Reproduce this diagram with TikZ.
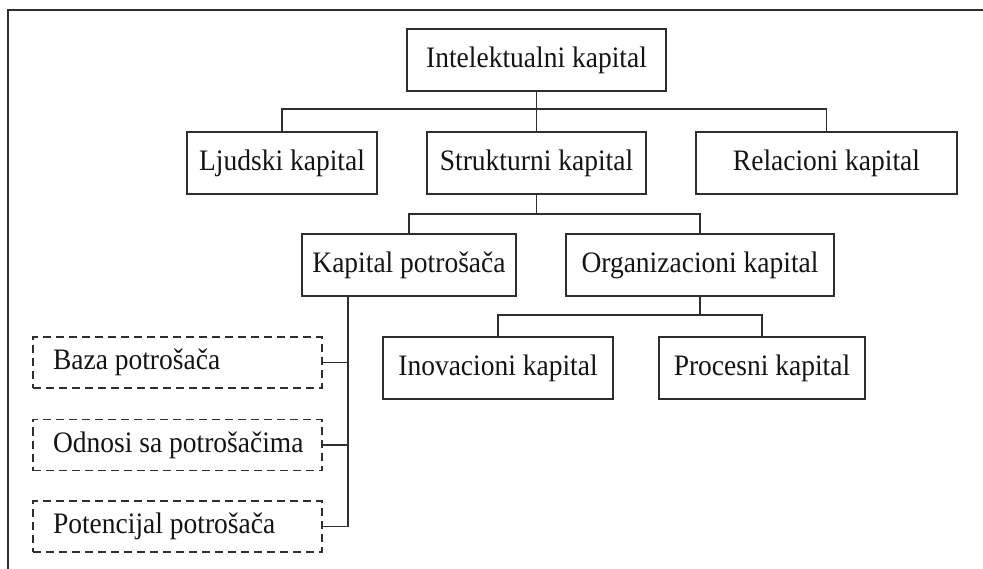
\documentclass[tikz,border=0pt]{standalone}
\usepackage{fontspec}
\setmainfont{Liberation Serif}
\newcommand{\tallt}[1]{\scalebox{1}[1.08]{#1}}
\newcommand{\leftt}[1]{\makebox[249pt][l]{\scalebox{1}[1.08]{#1}}}
\begin{document}
\begin{tikzpicture}[x=1pt,y=-1pt,
  line width=1.3pt,
  every node/.style={font=\fontsize{27.5}{30}\selectfont, text=black!92, inner sep=0pt},
  box/.style={draw=black!82, minimum height=62pt},
  dbox/.style={draw=black!82, dash pattern=on 8pt off 5pt, minimum height=51pt, minimum width=289pt},
  conn/.style={draw=black!82, line width=1.3pt}]
\useasboundingbox (0,0) rectangle (983,569);
\draw[black!82] (983,10) -- (8,10) -- (8,569);

\node[box, minimum width=259pt] (ik) at (536.5,60) {\tallt{Intelektualni kapital}};
\node[box, minimum width=190pt] (lk) at (282,163) {\tallt{Ljudski kapital}};
\node[box, minimum width=219pt] (sk) at (536.5,163) {\tallt{Strukturni kapital}};
\node[box, minimum width=261pt] (rk) at (826.5,163) {\tallt{Relacioni kapital}};
\node[box, minimum width=214pt] (kp) at (409,265) {\tallt{Kapital potrošača}};
\node[box, minimum width=268pt] (ok) at (700,265) {\tallt{Organizacioni kapital}};
\node[box, minimum width=230pt] (inv) at (498,368) {\tallt{Inovacioni kapital}};
\node[box, minimum width=206pt] (pk) at (762,368) {\tallt{Procesni kapital}};

\node[dbox] (baza) at (177.5,362.5) {\leftt{Baza potrošača}};
\node[dbox] (odn) at (177.5,445) {\leftt{Odnosi sa potrošačima}};
\node[dbox] (pot) at (177.5,526.5) {\leftt{Potencijal potrošača}};

\coordinate (h1) at (0,109);
\coordinate (h2) at (0,214);
\coordinate (h3) at (0,315);
\coordinate (tr) at (348,0);

% level 1
\draw[conn] (ik.south) -- (ik.south |- h1);
\draw[conn] (lk.north) -- (lk.north |- h1) -- (rk.north |- h1) -- (rk.north);
\draw[conn] (sk.north) -- (sk.north |- h1);
% level 2
\draw[conn] (sk.south) -- (sk.south |- h2);
\draw[conn] (kp.north) -- (kp.north |- h2) -- (ok.north |- h2) -- (ok.north);
% level 3
\draw[conn] (ok.south) -- (ok.south |- h3);
\draw[conn] (inv.north) -- (inv.north |- h3) -- (pk.north |- h3) -- (pk.north);
% dashed children
\draw[conn] (kp.south -| tr) -- (pot.east -| tr) -- (pot.east);
\draw[conn] (baza.east) -- (baza.east -| tr);
\draw[conn] (odn.east) -- (odn.east -| tr);
\end{tikzpicture}
\end{document}
